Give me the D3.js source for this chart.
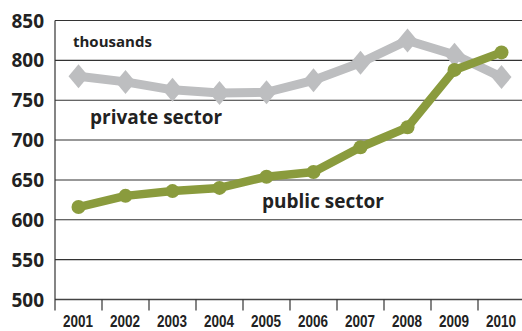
<!DOCTYPE html>
<html><head><meta charset="utf-8">
<script src="https://cdn.jsdelivr.net/npm/d3@7"></script>
<style>body{margin:0;background:#fff;} svg{display:block;} text{font-family:"Open Sans",sans-serif;font-weight:700;fill:#222;} text.xl{font-family:"Liberation Sans Narrow","Liberation Sans",sans-serif;}</style>
</head><body>
<svg id="c" width="522" height="331"></svg>
<script>
const years = ["2001","2002","2003","2004","2005","2006","2007","2008","2009","2010"];
const privateSector = [780, 773, 763, 759, 760, 775, 797, 825, 807, 779];
const publicSector = [616, 630, 636, 640, 654, 660, 691, 716, 788, 810];
const yTicks = [500, 550, 600, 650, 700, 750, 800, 850];

(function(){
const svg = d3.select("#c");
const mLeft = 55, mRight = 525, mTop = 20.5, mBottom = 299.5;
const x = d3.scaleBand().domain(years).range([mLeft, mRight]);
const y = d3.scaleLinear().domain([500, 850]).range([mBottom, mTop]);
const cx = d => x(d) + x.bandwidth()/2;

// gridlines
svg.append("g").selectAll("line").data(yTicks).join("line")
  .attr("x1", mLeft).attr("x2", 522)
  .attr("y1", d => y(d)).attr("y2", d => y(d))
  .attr("stroke", d => d===500 ? "#444" : "#333").attr("stroke-width", d => d===500?1.6:1.1);
// y axis line
svg.append("line").attr("x1", mLeft).attr("x2", mLeft).attr("y1", mTop).attr("y2", mBottom + 11)
  .attr("stroke", "#333").attr("stroke-width", 1.2);
// x ticks
svg.append("g").selectAll("line").data(years.slice(1)).join("line")
  .attr("x1", d => x(d)).attr("x2", d => x(d)).attr("y1", mBottom).attr("y2", mBottom + 11)
  .attr("stroke", "#333").attr("stroke-width", 1.2);
// y labels
svg.append("g").selectAll("text").data(yTicks).join("text")
  .attr("x", 44).attr("y", d => y(d) + 7).attr("text-anchor", "end")
  .attr("font-size", 19).text(d => d);
// x labels
svg.append("g").selectAll("text").data(years).join("text")
  .attr("class", "xl")
  .attr("x", d => cx(d) - 0.5).attr("y", 327).attr("text-anchor", "middle")
  .attr("font-size", 16.5).attr("textLength", 30).attr("lengthAdjust","spacingAndGlyphs").text(d => d);

const line = d3.line().x((d,i) => cx(years[i])).y(d => y(d));
const grey = "#BDBEC0", green = "#8A9B3D";
const tallDiamond = { draw(ctx, size) { const w = 10, h = 12; ctx.moveTo(0,-h); ctx.lineTo(w,0); ctx.lineTo(0,h); ctx.lineTo(-w,0); ctx.closePath(); } };
svg.append("path").datum(privateSector).attr("d", line).attr("fill","none")
  .attr("stroke", grey).attr("stroke-width", 9).attr("stroke-linejoin","round");
svg.append("g").selectAll("path").data(privateSector).join("path")
  .attr("d", d3.symbol().type(tallDiamond)())
  .attr("transform", (d,i) => `translate(${cx(years[i])},${y(d)})`)
  .attr("fill", grey);

svg.append("path").datum(publicSector).attr("d", line).attr("fill","none")
  .attr("stroke", green).attr("stroke-width", 8.5).attr("stroke-linejoin","round");
svg.append("g").selectAll("circle").data(publicSector).join("circle")
  .attr("cx", (d,i) => cx(years[i])).attr("cy", d => y(d)).attr("r", 7)
  .attr("fill", green);

svg.append("text").attr("x", 73).attr("y", 47).attr("font-size", 15).text("thousands");
svg.append("text").attr("x", 90).attr("y", 124).attr("font-size", 19).text("private sector");
svg.append("text").attr("x", 262).attr("y", 208).attr("font-size", 19).text("public sector");
})();
</script>
</body></html>
